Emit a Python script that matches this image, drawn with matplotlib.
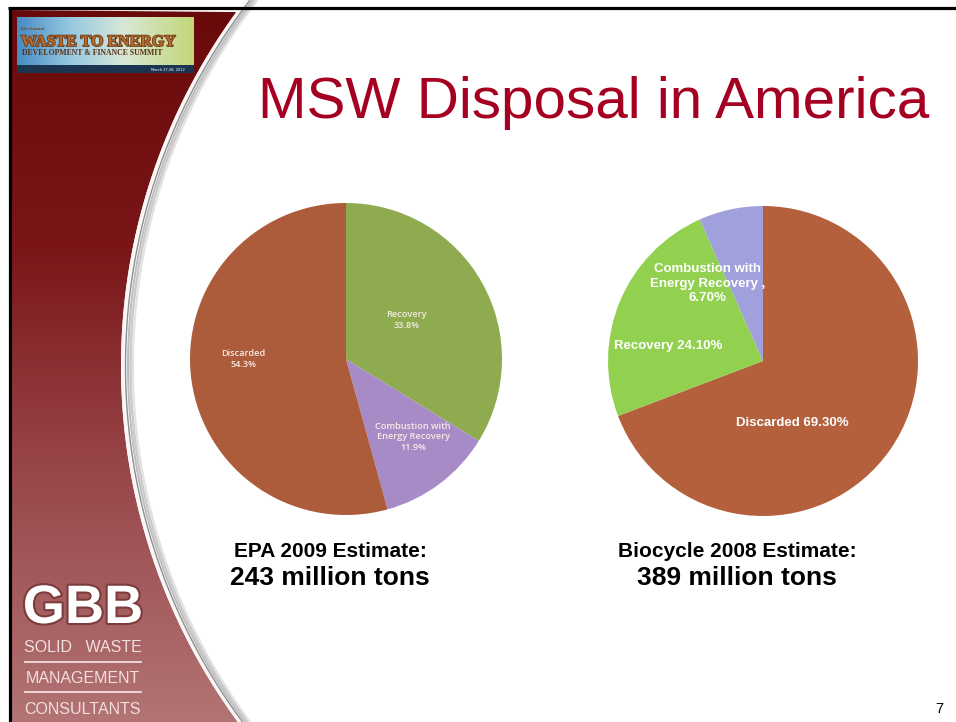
import numpy as np
import matplotlib
matplotlib.use("Agg")
import matplotlib.pyplot as plt
from matplotlib.patches import Polygon, Rectangle
import matplotlib.patheffects as pe

# ---------------- data ----------------
epa_labels = ["Recovery", "Combustion with\nEnergy Recovery", "Discarded"]
epa_values = [33.8, 11.9, 54.3]
epa_colors = ["#8fab4f", "#a78bc7", "#ad5c3b"]

bio_labels = ["Discarded", "Recovery", "Combustion with\nEnergy Recovery ,"]
bio_values = [69.3, 24.1, 6.7]
bio_colors = ["#b5603d", "#92d050", "#a0a0dc"]

title = "MSW Disposal in America"
captions = [("EPA 2009 Estimate:", "243 million tons"),
            ("Biocycle 2008 Estimate:", "389 million tons")]

W, H = 956, 722
fig = plt.figure(figsize=(W / 100, H / 100), dpi=100)
fig.patch.set_facecolor("white")

PT = 0.72  # points per pixel at 100 dpi

# background axes in pixel coordinates
bg = fig.add_axes([0, 0, 1, 1])
bg.set_xlim(0, W)
bg.set_ylim(H, 0)
bg.axis("off")

# ---------- left sidebar with gradient, clipped by an arc ----------
cxc, cyc, R = 721.0, 366.0, 600.0
ys = np.linspace(0, H, 300)
xs = cxc - np.sqrt(R ** 2 - (ys - cyc) ** 2)
verts = [(10, 10)] + [(x, y) for x, y in zip(xs, ys) if y >= 10] + [(10, H)]
poly = Polygon(verts, closed=True, facecolor="none", edgecolor="none")
bg.add_patch(poly)

stops_y = np.array([10, 250, 450, 722]) / H
stops_c = np.array([[105, 10, 10], [122, 22, 24], [150, 66, 70], [178, 116, 116]]) / 255
gy = np.linspace(0, 1, 400)
grad = np.stack([np.interp(gy, stops_y, stops_c[:, i]) for i in range(3)], axis=1)
img = bg.imshow(grad[:, None, :], extent=(0, 270, H, 0), aspect="auto",
                interpolation="bilinear", zorder=1)
img.set_clip_path(poly)

# arc band (white strip with grey lines and soft grey shadow)
for off, col, lw in [(7.0, "#bdbdbd", 2.0), (9.5, "#cbcbcb", 2.5), (12.0, "#e2e2e2", 2.0),
                     (1.5, "#fbf6f6", 3.0), (4.5, "#8c8c8c", 1.4)]:
    bg.plot(xs + off, ys, color=col, lw=lw * PT, zorder=3, solid_capstyle="butt")

# black border
bg.plot([8, W], [8, 8], color="black", lw=2.3, zorder=6, solid_capstyle="butt")
bg.plot([10, 10], [7, H], color="black", lw=2.3, zorder=6, solid_capstyle="butt")

# ---------- top-left conference logo ----------
lx0, lx1, ly0, ly1 = 17, 194, 17, 66
gx = np.linspace(0, 1, 200)
lstops = np.array([[70, 140, 195], [150, 200, 225], [215, 232, 215], [195, 215, 120]]) / 255
lpos = [0, 0.3, 0.6, 1.0]
lgrad = np.stack([np.interp(gx, lpos, lstops[:, i]) for i in range(3)], axis=1)
bg.imshow(lgrad[None, :, :], extent=(lx0, lx1, ly1, ly0), aspect="auto",
          interpolation="bilinear", zorder=5)
bg.add_patch(Rectangle((lx0, 65), lx1 - lx0, 8, facecolor="#1b3550", edgecolor="none", zorder=5))
bg.text(21, 30, "8th Annual", fontsize=3.5, color="#7a4a20", family="Liberation Serif",
        weight="bold", zorder=7, va="baseline")
bg.text(21, 46, "WASTE TO ENERGY", fontsize=11.5, color="#b8692c", family="Liberation Serif",
        weight="bold", zorder=7, va="baseline",
        path_effects=[pe.withStroke(linewidth=1.2, foreground="#6a3a18")])
bg.text(22, 55, "DEVELOPMENT & FINANCE SUMMIT", fontsize=5.6, color="#5a3218",
        family="Liberation Serif", weight="bold", zorder=7, va="baseline")
bg.text(185, 71, "March 27-28, 2012", fontsize=2.6, color="white", ha="right",
        zorder=7, va="baseline")

# ---------- GBB logo ----------
bg.text(83, 623, "GBB", fontsize=39, weight="bold", family="Liberation Sans",
        color="white", ha="center", va="baseline", zorder=7,
        path_effects=[pe.withStroke(linewidth=3, foreground="#7c3c3c")])
lc = "#f3dede"
bg.text(83, 652, "SOLID   WASTE", fontsize=11.5, family="Liberation Sans", color=lc,
        ha="center", va="baseline", zorder=7)
bg.plot([25, 141], [662, 662], color=lc, lw=1.3, zorder=7)
bg.text(83, 683, "MANAGEMENT", fontsize=11.5, family="Liberation Sans", color=lc,
        ha="center", va="baseline", zorder=7)
bg.plot([25, 141], [692, 692], color=lc, lw=1.3, zorder=7)
bg.text(83, 714, "CONSULTANTS", fontsize=11.5, family="Liberation Sans", color=lc,
        ha="center", va="baseline", zorder=7)

# ---------- title ----------
bg.text(594, 118, title, fontsize=42, family="Liberation Sans", color="#a50021",
        ha="center", va="baseline", zorder=7)

# ---------- captions ----------
for cx, (c1, c2) in zip([330, 737], captions):
    bg.text(cx, 557, c1, fontsize=15, weight="bold", family="Liberation Sans",
            color="black", ha="center", va="baseline", zorder=7)
    bg.text(cx, 585, c2, fontsize=19, weight="bold", family="Liberation Sans",
            color="black", ha="center", va="baseline", zorder=7)

bg.text(939, 713, "7", fontsize=10.5, family="Liberation Sans", color="black",
        ha="center", va="baseline", zorder=7)


# ---------- pies ----------
def px_axes(cx, cy, r):
    return fig.add_axes([(cx - r) / W, 1 - (cy + r) / H, 2 * r / W, 2 * r / H])


ax1 = px_axes(346, 359, 156)
ax1.pie(epa_values, colors=epa_colors, startangle=90, counterclock=False,
        radius=1, wedgeprops=dict(linewidth=0))
ax1.set_xlim(-1, 1)
ax1.set_ylim(-1, 1)
ax1.set_aspect("equal")
ax1.axis("off")
epa_pos = [(0.39, 0.25), (0.43, -0.50), (-0.66, 0.0)]
for lab, v, (x, y) in zip(epa_labels, epa_values, epa_pos):
    ax1.text(x, y, f"{lab}\n{v:.1f}%", ha="center", va="center", fontsize=6.6,
             family="Open Sans", weight="semibold", color="#f6ece4", linespacing=1.15)

ax2 = px_axes(763, 361, 155)
ax2.pie(bio_values, colors=bio_colors, startangle=90, counterclock=False,
        radius=1, wedgeprops=dict(linewidth=0))
ax2.set_xlim(-1, 1)
ax2.set_ylim(-1, 1)
ax2.set_aspect("equal")
ax2.axis("off")
bio_pos = [(0.19, -0.40), (-0.61, 0.10), (-0.36, 0.50)]
bio_text = [f"{bio_labels[0]} {bio_values[0]:.2f}%",
            f"{bio_labels[1]} {bio_values[1]:.2f}%",
            f"{bio_labels[2]}\n{bio_values[2]:.2f}%"]
for t, (x, y) in zip(bio_text, bio_pos):
    ax2.text(x, y, t, ha="center", va="center", fontsize=9.5,
             family="Liberation Sans", weight="bold", color="white", linespacing=1.25)

fig.savefig("out.png", dpi=100)
